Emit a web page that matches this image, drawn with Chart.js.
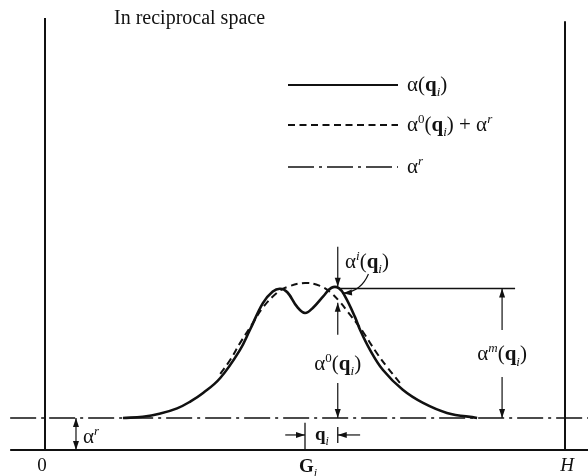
<!DOCTYPE html>
<html>
<head>
<meta charset="utf-8">
<script src="https://cdn.jsdelivr.net/npm/chart.js@4/dist/chart.umd.min.js"></script>
<style>
  html, body { margin: 0; padding: 0; background: #fff; }
  canvas { display: block; }
</style>
</head>
<body>
<canvas id="peak" width="588" height="476"></canvas>
<script>
// positions along the reciprocal axis: 0 .. H, with the zone centre G_i halfway
const tickNames = ['0', 'G', 'H'];
const tickPos = [0, 50, 100];
const qPos = 56.3;          // G_i + q_i
const alphaR = 1;           // level of the constant part alpha^r

// full response alpha(q_i), with its double peak
const solidX = [15.0, 18.8, 22.0, 25.4, 28.0, 30.4, 33.7, 37.5, 39.4, 41.9, 43.8, 45.2, 46.6, 48.5, 50.0,
                51.5, 53.5, 55.1, 56.5, 57.7, 59.6, 60.6, 62.5, 65.0, 68.8, 72.7, 77.3, 83.1];
const alphaTotal = [1.0, 1.04, 1.13, 1.30, 1.52, 1.78, 2.25, 3.13, 3.75, 4.59, 4.95, 5.04, 4.93, 4.47, 4.28,
                    4.44, 4.80, 5.07, 5.06, 4.80, 4.16, 3.75, 3.13, 2.5, 1.88, 1.47, 1.16, 1.0];

// smooth part alpha^0(q_i) + alpha^r
const dashX = [33.7, 35.6, 37.5, 39.8, 41.9, 44.6, 46.5, 50.0, 52.9, 54.8, 56.7, 58.3, 60.0,
               61.2, 63.8, 65.8, 68.3];
const alphaZero = [2.38, 2.81, 3.34, 3.92, 4.45, 4.91, 5.09, 5.22, 5.13, 4.94, 4.63, 4.30, 3.95,
                   3.68, 3.03, 2.59, 2.09];

const peakLevel = 5.05;

const pts = (xs, ys) => xs.map((x, i) => ({ x, y: ys[i] }));
const seg = (x1, y1, x2, y2) => [{ x: x1, y: y1 }, { x: x2, y: y2 }];

const INK = '#111';
const SERIF = '"Liberation Serif", "DejaVu Serif", serif';
const DASHDOT = [26, 5, 3, 5];
const FS = 21;

const line = (data, extra) => Object.assign({
  data, showLine: true, borderColor: INK, borderWidth: 2, pointRadius: 0, fill: false
}, extra || {});

// rich text: [text, style]; styles r, b, i, sub, sup, supi
function fontFor(s, size) {
  const small = Math.round(size * 0.64);
  if (s === 'b') return `bold ${size}px ${SERIF}`;
  if (s === 'i') return `italic ${size}px ${SERIF}`;
  if (s === 'sub') return `italic ${small}px ${SERIF}`;
  if (s === 'sup') return `${small}px ${SERIF}`;
  if (s === 'supi') return `italic ${small}px ${SERIF}`;
  return `${size}px ${SERIF}`;
}
function richWidth(ctx, parts, size) {
  let w = 0;
  parts.forEach(([t, s]) => { ctx.font = fontFor(s, size); w += ctx.measureText(t).width; });
  return w;
}
function drawRich(ctx, parts, x, y, align, size) {
  size = size || FS;
  let cx = x;
  const w = richWidth(ctx, parts, size);
  if (align === 'center') cx = x - w / 2;
  ctx.textBaseline = 'alphabetic';
  ctx.textAlign = 'left';
  parts.forEach(([t, s]) => {
    ctx.font = fontFor(s, size);
    let dy = 0;
    if (s === 'sub') dy = size * 0.26;
    if (s === 'sup' || s === 'supi') dy = -size * 0.38;
    ctx.fillText(t, cx, y + dy);
    cx += ctx.measureText(t).width;
  });
}

function head(ctx, x, y, ang) {
  const len = 9, half = 3;
  ctx.save();
  ctx.translate(x, y);
  ctx.rotate(ang);
  ctx.beginPath();
  ctx.moveTo(0, 0);
  ctx.lineTo(-len, -half);
  ctx.lineTo(-len, half);
  ctx.closePath();
  ctx.fill();
  ctx.restore();
}
function arrow(ctx, x1, y1, x2, y2, both) {
  ctx.beginPath();
  ctx.moveTo(x1, y1);
  ctx.lineTo(x2, y2);
  ctx.stroke();
  head(ctx, x2, y2, Math.atan2(y2 - y1, x2 - x1));
  if (both) head(ctx, x1, y1, Math.atan2(y1 - y2, x1 - x2));
}

const qi = (pre) => pre.concat([['(', 'r'], ['q', 'b'], ['i', 'sub'], [')', 'r']]);

const notes = {
  id: 'notes',
  afterDatasetsDraw(chart) {
    const { ctx, scales: { x, y } } = chart;
    const X = v => x.getPixelForValue(v);
    const Y = v => y.getPixelForValue(v);
    ctx.save();
    ctx.fillStyle = INK;
    ctx.strokeStyle = INK;
    ctx.lineWidth = 1.2;

    // title
    drawRich(ctx, [['In reciprocal space', 'r']], 114, 24, 'left', 20);

    // legend
    const lx0 = 288, lx1 = 398, tx = 407;
    const rows = [
      { y: 85, dash: [], w: 2, label: qi([['α', 'r']]) },
      { y: 125, dash: [7, 4.5], w: 2, label: qi([['α', 'r'], ['0', 'sup']]).concat([[' + ', 'r'], ['α', 'r'], ['r', 'supi']]) },
      { y: 167, dash: DASHDOT, w: 1.3, label: [['α', 'r'], ['r', 'supi']] }
    ];
    rows.forEach(r => {
      ctx.save();
      ctx.lineWidth = r.w;
      ctx.setLineDash(r.dash);
      ctx.beginPath();
      ctx.moveTo(lx0, r.y);
      ctx.lineTo(lx1, r.y);
      ctx.stroke();
      ctx.restore();
      drawRich(ctx, r.label, tx, r.y + 6);
    });

    // alpha^i(q_i): arrow down onto the peak and curved leader
    arrow(ctx, X(qPos), Y(6.35), X(qPos), Y(5.1));
    drawRich(ctx, qi([['α', 'r'], ['i', 'supi']]), X(57.7), Y(5.875) + 6);
    const sx = X(62.2), sy = Y(5.5), cx = X(60.8), cy = Y(4.95), ex = X(57.3), ey = Y(4.9);
    ctx.beginPath();
    ctx.moveTo(sx, sy);
    ctx.quadraticCurveTo(cx, cy, ex, ey);
    ctx.stroke();
    head(ctx, ex, ey, Math.atan2(ey - cy, ex - cx));

    // alpha^0(q_i) between the smooth curve and alpha^r
    arrow(ctx, X(qPos), Y(3.6), X(qPos), Y(4.6));
    arrow(ctx, X(qPos), Y(2.09), X(qPos), Y(alphaR));
    drawRich(ctx, qi([['α', 'r'], ['0', 'sup']]), X(qPos), Y(2.72) + 7, 'center');

    // alpha^m(q_i) from alpha^r up to the peak level
    const mx = 87.9;
    arrow(ctx, X(mx), Y(3.75), X(mx), Y(peakLevel));
    arrow(ctx, X(mx), Y(2.28), X(mx), Y(alphaR));
    drawRich(ctx, qi([['α', 'r'], ['m', 'supi']]), X(mx), Y(3.03) + 7, 'center');

    // alpha^r above the baseline
    arrow(ctx, X(5.96), Y(0), X(5.96), Y(alphaR), true);
    drawRich(ctx, [['α', 'r'], ['r', 'supi']], X(7.3), Y(0.4) + 6);

    // q_i offset from G_i
    arrow(ctx, X(46.2), Y(0.47), X(tickPos[1]), Y(0.47));
    arrow(ctx, X(60.6), Y(0.47), X(qPos), Y(0.47));
    drawRich(ctx, [['q', 'b'], ['i', 'sub']], X(51.9), Y(0.47) + 5, 'left', 19);

    // axis labels 0, G_i, H
    drawRich(ctx, [[tickNames[0], 'r']], X(tickPos[0]) - 3, Y(-0.47) + 6, 'center', 19);
    drawRich(ctx, [[tickNames[1], 'b'], ['i', 'sub']], X(tickPos[1]) + 3, Y(-0.5) + 6, 'center', 19);
    drawRich(ctx, [[tickNames[2], 'i']], X(tickPos[2]) + 2, Y(-0.47) + 6, 'center', 19);
    ctx.restore();
  }
};

new Chart(document.getElementById('peak'), {
  type: 'scatter',
  data: {
    datasets: [
      line(pts(solidX, alphaTotal), { borderWidth: 2.6, tension: 0.4 }),
      line(pts(dashX, alphaZero), { borderWidth: 2, borderDash: [7, 4.5], tension: 0.4 }),
      line(seg(-6.7, 0, 104.5, 0)),
      line(seg(-6.7, alphaR, 104.5, alphaR), { borderWidth: 1.3, borderDash: DASHDOT }),
      line(seg(tickPos[0], 0, tickPos[0], 13.5)),
      line(seg(tickPos[2], 0, tickPos[2], 13.4)),
      line(seg(tickPos[1], 0, tickPos[1], 0.85), { borderWidth: 1.3 }),
      line(seg(qPos, 0.22, qPos, 0.72), { borderWidth: 1.3 }),
      line(seg(56.5, peakLevel, 90.4, peakLevel), { borderWidth: 1.5 })
    ]
  },
  options: {
    responsive: false,
    animation: false,
    devicePixelRatio: 1,
    layout: { padding: 0 },
    scales: {
      x: { type: 'linear', min: -45 / 5.2, max: 543 / 5.2, display: false },
      y: { type: 'linear', min: -26 / 32, max: 450 / 32, display: false }
    },
    plugins: { legend: { display: false }, tooltip: { enabled: false } }
  },
  plugins: [notes]
});
</script>
</body>
</html>
